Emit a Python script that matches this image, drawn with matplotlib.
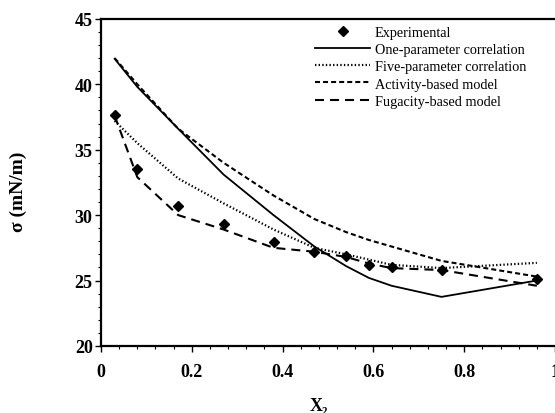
import matplotlib
matplotlib.use('Agg')
import matplotlib.pyplot as plt
from matplotlib.ticker import MultipleLocator

plt.rcParams['font.family'] = 'Liberation Serif'
plt.rcParams['lines.scale_dashes'] = False

# mole fraction of component 2
x2 = [0.03, 0.08, 0.17, 0.27, 0.38, 0.47, 0.54, 0.59, 0.64, 0.75, 0.96]

# surface tension (mN/m)
sigma_exp = [37.65, 33.5, 30.7, 29.3, 27.95, 27.2, 26.9, 26.2, 26.05, 25.8, 25.15]
sigma_one = [41.95, 39.8, 36.6, 33.1, 30.0, 27.6, 26.1, 25.2, 24.6, 23.75, 25.0]
sigma_five = [37.2, 35.5, 32.8, 30.9, 28.9, 27.5, 27.0, 26.6, 26.2, 25.95, 26.35]
sigma_act = [42.0, 40.0, 36.6, 34.0, 31.5, 29.7, 28.7, 28.1, 27.6, 26.5, 25.3]
sigma_fug = [37.6, 32.9, 30.0, 28.9, 27.5, 27.2, 26.8, 26.3, 25.95, 25.8, 24.6]

fig = plt.figure(figsize=(5.55, 4.14), dpi=100)
ax = fig.add_axes([0.182, 0.162, 0.818, 0.790])

ax.plot(x2, sigma_exp, linestyle='none', marker='D', color='black',
        markersize=5, label='Experimental')
ax.plot(x2, sigma_one, '-', color='black', lw=1.3, label='One-parameter correlation')
ax.plot(x2, sigma_five, color='black', lw=1.6, linestyle=(0, (1.0, 1.6)),
        label='Five-parameter correlation')
ax.plot(x2, sigma_act, color='black', lw=1.5, linestyle=(0, (3.6, 2.2)),
        label='Activity-based model')
ax.plot(x2, sigma_fug, color='black', lw=1.5, linestyle=(0, (6.5, 4.3)),
        label='Fugacity-based model')

ax.set_xlim(0, 1)
ax.set_ylim(20, 45)
ax.xaxis.set_minor_locator(MultipleLocator(0.04))
ax.yaxis.set_major_locator(MultipleLocator(5))
ax.yaxis.set_minor_locator(MultipleLocator(1))
ax.set_xticks([0, 0.2, 0.4, 0.6, 0.8, 1.0])
ax.set_xticklabels(['0', '0.2', '0.4', '0.6', '0.8', '1'])

ax.tick_params(axis='both', which='major', direction='out', length=4, width=1,
               labelsize=13, top=False, right=False)
ax.tick_params(axis='x', which='major', pad=8)
ax.tick_params(axis='y', which='major', pad=2)
ax.tick_params(axis='both', which='minor', direction='out', length=2, width=0.8,
               top=False, right=False)
for lab in ax.get_xticklabels() + ax.get_yticklabels():
    lab.set_fontweight('bold')

for side in ['left', 'bottom', 'top']:
    ax.spines[side].set_linewidth(1.6)
ax.spines['right'].set_visible(False)

ax.set_ylabel('σ (mN/m)', fontsize=14, fontweight='bold',
              family=['Liberation Serif', 'DejaVu Sans'])
ax.yaxis.set_label_coords(-0.163, 0.474)
ax.set_xlabel('X₂', fontsize=13, fontweight='bold',
              family=['Liberation Serif', 'DejaVu Serif'])
ax.xaxis.set_label_coords(0.48, -0.155)

ax.legend(loc='upper left', bbox_to_anchor=(0.458, 0.997), frameon=False,
          fontsize=10.3, handlelength=3.9, handletextpad=0.3, labelspacing=0.3,
          borderaxespad=0.0)

fig.savefig('out.png', dpi=100)
